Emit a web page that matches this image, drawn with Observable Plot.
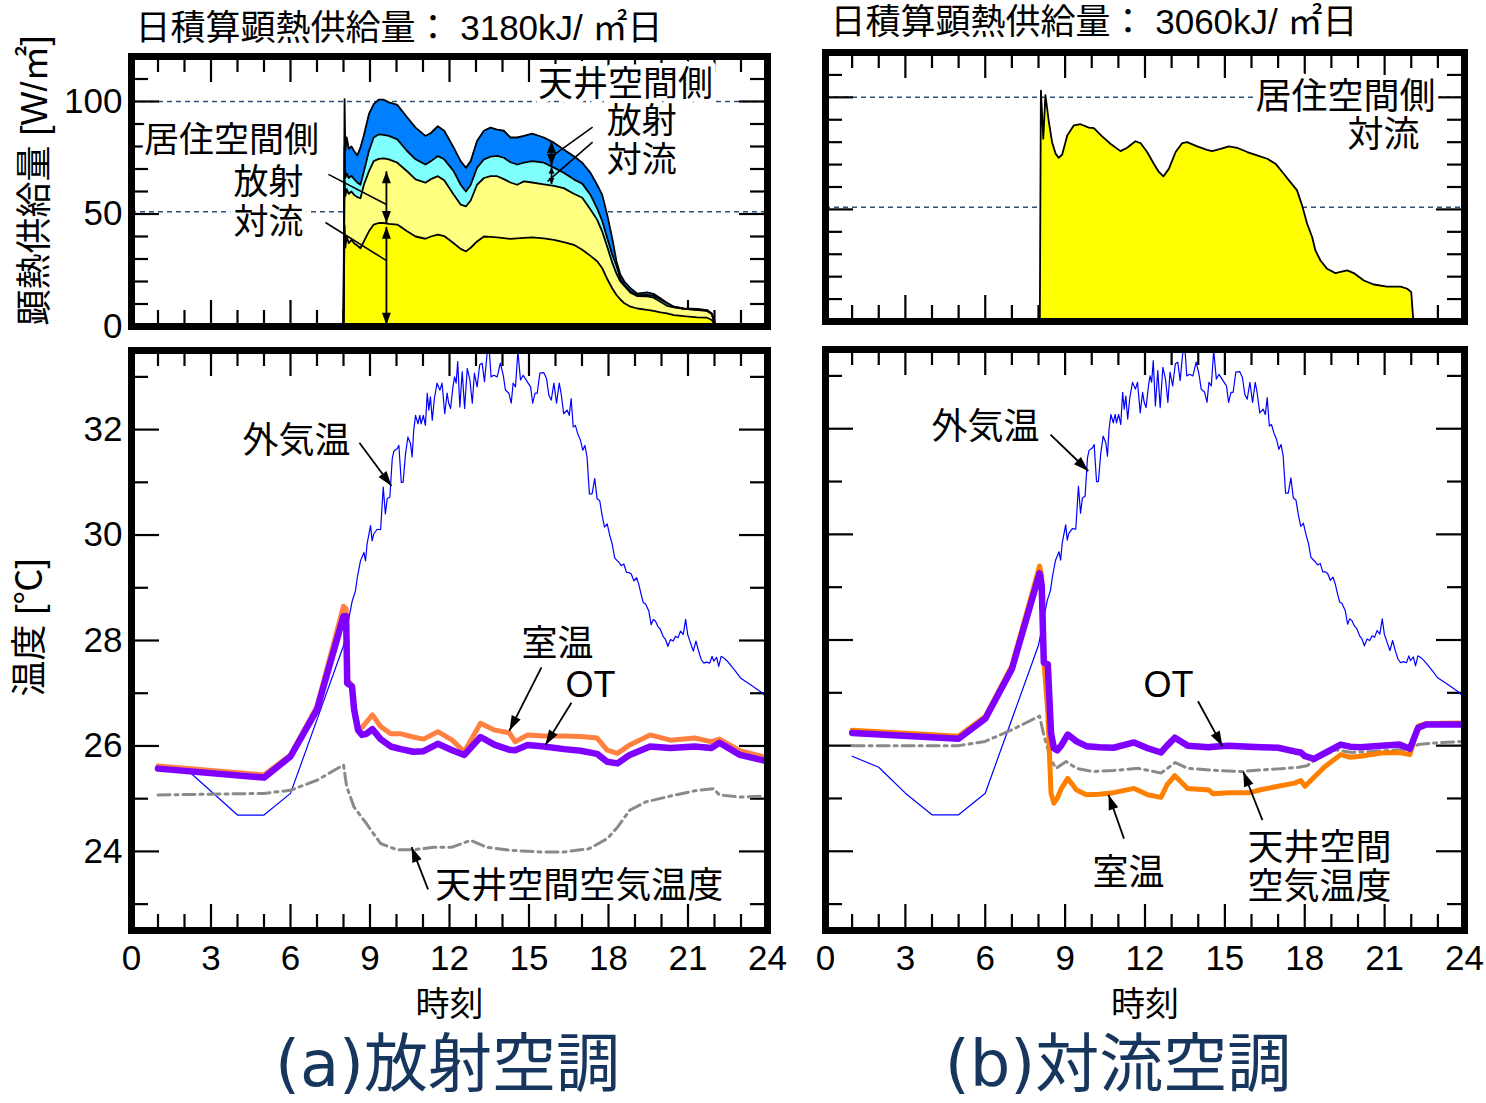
<!DOCTYPE html>
<html><head><meta charset="utf-8">
<script src="https://cdn.jsdelivr.net/npm/d3@7"></script>
<script src="https://cdn.jsdelivr.net/npm/@observablehq/plot@0.6"></script>
<style>
body{margin:0;background:#fff;}
#root{position:relative;width:1486px;height:1103px;overflow:hidden;background:#fff;}
</style></head><body><div id="root"></div>
<script>
// ---------- tick values ----------
const xTickLabels = [0,3,6,9,12,15,18,21,24];
const xMajorTicks = [3,6,9,12,15,18,21];
const xMinorTicks = [1,2,4,5,7,8,10,11,13,14,16,17,19,20,22,23];
const heatTickLabels = [0,50,100];
const heatMajorTicks = [50,100];
const heatMinorTicks = [10,20,30,40,60,70,80,90,110];
const tempTickLabels = [24,26,28,30,32];
const tempMajorTicks = [24,26,28,30,32];
const tempMinorTicks = [23,25,27,29,31,33];
const heatRefLines = [100,51];

// ---------- (a) radiant: heat supply, cumulative boundaries [W/m2] ----------
const aHeatHour = [8.0,8.04,8.07,8.12,8.2,8.3,8.4,8.52,8.64,8.77,8.96,9.14,9.33,9.52,9.71,10.03,10.4,10.72,11.09,11.3,11.56,11.8,12.16,12.42,12.62,12.8,13.04,13.3,13.55,13.8,14.05,14.3,14.55,14.81,15.12,15.56,15.94,16.31,16.69,17.01,17.32,17.57,17.76,17.95,18.14,18.3,18.45,18.6,18.83,19.09,19.46,19.7,19.96,20.21,20.47,20.84,21.35,21.72,21.9,22.0,22.05];
const aLivingConvTop = [0,45,35,40,37,38.5,37,36,34.8,37.8,42.3,45.3,46,46,45.6,45.3,42.3,40,39,40,40.8,40.2,37,34.5,33.4,35,37.8,40,39.8,39.6,39.3,38.9,39.2,39.4,39.6,39.2,38.5,37.5,36.3,34.1,31.4,29,26,21.2,17,14,12,10.3,8.8,8,7.4,6.9,6.3,5.8,5.1,4.6,4.1,3.9,2.9,1.0,0];
const aLivingRadTop = [0,65,58,61,59,60,58.5,57.5,57,63,69,73.5,74.5,74.7,74.3,72.8,69,65.4,63.9,65.5,66.8,65,58.6,54.2,53.4,56,63,66,66.8,66.8,65.5,64,63,64.5,64,63.2,62.5,61.5,59,57.2,52,47.5,42.3,35.5,28.5,23.5,20,18,15,13.5,13.4,12.8,11,9.2,8.5,7.8,7.3,6.9,5.4,1.8,0];
const aCeilConvTop = [0,80,66,68,66,67,65.5,64,63,69,78,84,85.4,85.2,84.7,83.2,78,74.3,72,73.5,75.8,74.3,69,63,60,63,70.6,74.3,75.5,75.8,75,73,72,72.8,73.5,72.8,70.6,68.3,65.4,63.5,58.5,52.5,47,39.3,32,27,21,18.5,15.5,13.9,14.1,13.6,12,10.3,8.7,7.9,7.5,7.1,5.7,1.9,0];
const aCeilRadTop = [0,101,78,84,79,80,78,76,79.5,85,94.4,98.8,100.8,100.8,99.6,98.5,93,88.4,84.7,86,89,87,79.5,73.5,70.5,73.5,82.4,87,88.4,87.5,87,84,84,84.7,85.7,84,81.7,78.7,75.7,72.8,68.3,63,58.6,49.7,39.3,29,23,20,17,14.6,15.2,14.5,12.5,10.5,8.8,8.0,7.8,7.3,5.8,2.0,0];

// ---------- (b) convective: heat supply [W/m2] ----------
const bHeatHour = [8.05,8.09,8.18,8.26,8.39,8.51,8.64,8.76,8.89,9.08,9.33,9.58,9.89,10.08,10.39,10.70,11.08,11.33,11.64,11.83,12.08,12.33,12.52,12.69,12.90,13.15,13.40,13.58,13.96,14.33,14.52,14.84,15.15,15.46,15.84,16.21,16.59,16.90,17.21,17.46,17.71,17.90,18.09,18.28,18.40,18.59,18.84,19.15,19.59,19.84,20.22,20.59,21.09,21.60,21.85,22.0,22.08];
const bLivingConv = [0,103,81.5,101,89,80,74.9,73,74.5,83,87.5,88,86.5,86.3,82.6,79.3,76,77.5,80.4,79.6,75.6,70.4,66.7,64.7,68.2,75.6,79.6,80,78.1,76.6,76,77,78.1,77.5,75.6,74.1,72.6,70.4,65.9,62.2,58.5,51.8,43.6,37.6,31.7,27.2,23.5,21.6,22.8,21.6,18.3,16.5,15.6,15.6,14.6,13.1,0];

// ---------- outdoor air temperature [°C] ----------
const aOutNightHour = [1.0,2.2,4.0,5.0,6.0];
const aOutNight = [25.57,25.5,24.69,24.69,25.10];
const bOutNightHour = [1.0,2.0,3.0,4.0,5.0,6.0];
const bOutNight = [25.80,25.59,25.10,24.69,24.69,25.10];
const outDayHour = [7.0,8.0,8.33,8.45,8.52,8.64,8.77,8.83,8.89,9.02,
 9.08,9.14,9.27,9.40,9.50,9.58,9.65,9.75,9.84,9.90,
 10.03,10.09,10.18,10.25,10.34,10.43,10.53,10.59,10.65,10.72,
 10.81,10.88,10.93,11.01,11.09,11.16,11.22,11.28,11.35,11.43,
 11.53,11.64,11.72,11.82,11.91,11.97,12.04,12.13,12.19,12.25,
 12.31,12.39,12.48,12.57,12.67,12.77,12.86,12.94,13.04,13.14,
 13.23,13.32,13.42,13.50,13.57,13.67,13.80,13.92,14.03,14.11,
 14.24,14.33,14.40,14.49,14.58,14.68,14.78,14.93,15.06,15.14,
 15.23,15.31,15.41,15.56,15.66,15.75,15.84,15.94,16.04,16.14,
 16.21,16.31,16.44,16.52,16.59,16.67,16.75,16.84,16.94,17.03,
 17.11,17.19,17.28,17.38,17.48,17.57,17.67,17.76,17.85,17.95,
 18.05,18.14,18.23,18.33,18.40,18.48,18.58,18.68,18.77,18.86,
 18.96,19.06,19.14,19.23,19.31,19.40,19.52,19.61,19.69,19.77,
 19.86,19.96,20.06,20.15,20.24,20.34,20.44,20.53,20.62,20.72,
 20.82,20.91,20.99,21.09,21.20,21.30,21.40,21.50,21.60,21.70,
 21.82,21.91,21.97,22.08,22.16,22.25,22.35,22.48,22.60,22.79,
 22.98,23.36,23.74,24.0];
const outDay = [26.5,27.9,28.75,28.94,29.19,29.51,29.67,29.51,29.83,30.18,
 29.89,30.02,30.11,30.10,30.91,30.40,30.69,30.72,31.45,31.59,
 31.64,31.70,31.00,31.00,31.54,31.86,31.73,31.48,31.99,32.27,
 32.11,32.27,32.11,32.27,32.08,32.69,32.37,32.62,32.18,32.59,
 32.88,32.75,32.88,32.30,32.69,32.50,32.40,32.81,33.00,32.88,
 33.29,32.43,33.10,32.40,33.16,32.94,32.50,33.07,32.81,33.23,
 33.26,32.91,33.45,33.51,33.00,33.03,33.00,33.26,33.03,32.75,
 32.69,32.50,32.88,32.81,33.48,32.94,33.03,32.91,32.81,32.50,
 32.69,32.69,33.07,33.08,32.97,32.65,32.56,32.88,32.50,32.88,
 32.69,32.30,32.37,32.27,32.59,32.05,32.08,31.92,31.80,31.61,
 31.70,31.48,30.78,30.78,31.07,30.69,30.65,30.37,30.15,30.21,
 29.99,29.83,29.57,29.51,29.48,29.42,29.45,29.29,29.29,29.26,
 29.13,29.19,29.07,28.88,28.72,28.69,28.56,28.30,28.40,28.37,
 28.27,28.21,28.08,28.02,27.89,28.02,27.99,28.08,28.05,28.18,
 28.11,28.40,28.11,27.96,27.80,27.99,27.80,27.64,27.57,27.59,
 27.57,27.70,27.61,27.68,27.51,27.70,27.67,27.61,27.54,27.42,
 27.29,27.16,27.03,26.91];

// ---------- (a) radiant: room temp, OT, ceiling air temp [°C] ----------
const aTempHour = [1.0,5.0,6.0,7.0,8.0,8.1,8.14,8.32,8.4,8.55,8.7,8.86,9.09,9.4,9.78,10.17,10.63,11.02,11.56,12.1,12.56,13.17,13.71,14.25,14.48,14.95,15.56,16.33,16.95,17.57,17.95,18.34,18.8,19.57,20.34,21.26,21.88,22.19,22.96,23.8,23.96];
const aOT = [25.57,25.40,25.80,26.69,28.46,28.46,27.19,27.13,26.69,26.30,26.21,26.23,26.32,26.13,25.99,25.94,25.89,25.90,26.04,25.92,25.83,26.17,26.02,25.93,25.92,26.02,25.99,25.94,25.91,25.85,25.70,25.67,25.83,25.99,25.96,25.99,25.96,26.06,25.83,25.73,25.71];
const aRoom = [25.62,25.45,25.83,26.75,28.65,28.6,27.26,27.15,26.72,26.32,26.35,26.45,26.59,26.37,26.23,26.23,26.17,26.13,26.27,26.11,25.89,26.43,26.30,26.25,26.08,26.21,26.19,26.19,26.18,26.15,25.92,25.86,26.02,26.21,26.11,26.15,26.08,26.13,25.91,25.80,25.78];
const aCeilHour = [1.0,5.0,6.0,7.0,8.0,8.12,8.4,8.86,9.4,10.02,10.63,11.4,12.1,12.79,13.4,14.33,15.41,16.33,17.26,17.95,18.34,18.8,19.41,20.34,21.26,21.96,22.19,22.96,24.0];
const aCeil = [25.07,25.10,25.16,25.35,25.64,25.23,24.84,24.53,24.15,24.03,24.03,24.08,24.08,24.21,24.08,24.02,23.99,23.99,24.05,24.24,24.46,24.78,24.94,25.05,25.15,25.19,25.07,25.03,25.05];

// ---------- (b) convective: room temp, OT, ceiling air temp [°C] ----------
const bTempHour = [1.0,5.0,6.0,7.0,8.04,8.12,8.2,8.35,8.47,8.58,8.7,8.85,9.1,9.43,9.8,10.3,10.82,11.59,12.1,12.6,12.83,13.12,13.6,14.4,14.55,15.15,15.92,16.38,17.0,17.62,17.85,18.01,18.35,18.75,19.35,19.71,20.09,20.87,21.56,21.95,22.26,22.57,24.0];
const bOT = [26.24,26.13,26.51,27.45,29.26,29.03,27.57,27.54,26.24,25.95,25.91,26.0,26.21,26.08,25.99,25.97,25.96,26.06,25.95,25.87,26.0,26.15,26.0,25.97,25.98,26.0,25.98,25.97,25.96,25.89,25.87,25.80,25.75,25.86,26.02,25.98,25.97,26.0,26.02,25.94,26.34,26.40,26.40];
const bRoom = [26.29,26.18,26.55,27.51,29.40,29.2,27.64,26.62,25.10,24.91,25.0,25.18,25.38,25.16,25.07,25.08,25.11,25.19,25.07,25.02,25.26,25.43,25.19,25.16,25.09,25.11,25.11,25.17,25.23,25.29,25.34,25.23,25.40,25.6,25.83,25.78,25.80,25.86,25.87,25.83,26.37,26.42,26.43];
const bCeilHour = [1.0,5.0,6.0,7.0,8.04,8.2,8.47,8.66,9.04,9.43,10.05,10.82,11.75,12.6,13.14,13.6,14.68,15.61,16.38,17.0,17.77,18.08,18.55,19.17,19.78,20.56,21.48,21.95,22.26,22.87,24.0];
const bCeil = [26.0,26.0,26.08,26.3,26.56,26.2,25.73,25.57,25.70,25.57,25.51,25.53,25.57,25.48,25.68,25.57,25.53,25.51,25.54,25.56,25.59,25.62,25.78,25.92,25.87,25.89,25.92,25.94,26.02,26.05,26.08];

// ---------- annotations (data coordinates) ----------
const aHeatLabels = [
  {x:3.77, y:82.7, t:"居住空間側"}, {x:5.17, y:64, t:"放射"}, {x:5.17, y:46.2, t:"対流"},
  {x:18.64, y:107.3, t:"天井空間側"}, {x:19.25, y:91.2, t:"放射"}, {x:19.25, y:73.6, t:"対流"}];
const aHeatPointers = [
  {x1:7.43, y1:67.6, x2:9.62, y2:54.2}, {x1:7.32, y1:46.2, x2:9.62, y2:29.3},
  {x1:17.4, y1:88.6, x2:15.85, y2:75.5}, {x1:17.4, y1:81.9, x2:15.7, y2:64.5}];
const aHeatSpans = [
  {x:9.62, y1:0.8, y2:44.3, big:true}, {x:9.62, y1:46, y2:69, big:true},
  {x:15.85, y1:71.5, y2:82.5, big:true}, {x:15.85, y1:63.3, y2:70.7, big:false}];
const bHeatLabels = [{x:19.53, y:100, t:"居住空間側"}, {x:20.96, y:83, t:"対流"}];
const aTempLabels = [
  {x:6.23, y:31.77, t:"外気温"}, {x:16.08, y:27.92, t:"室温"}, {x:17.32, y:27.14, t:"OT"},
  {x:16.9, y:23.33, t:"天井空間空気温度"}];
const aTempArrows = [
  {x1:8.6, y1:31.75, x2:9.81, y2:30.93}, {x1:15.47, y1:27.49, x2:14.26, y2:26.29},
  {x1:16.6, y1:26.82, x2:15.62, y2:26.02}, {x1:11.19, y1:23.28, x2:10.57, y2:24.08}];
const bTempLabels = [
  {x:6.01, y:32.02, t:"外気温"}, {x:12.88, y:27.14, t:"OT"}, {x:11.38, y:23.58, t:"室温"},
  {x:18.55, y:24.05, t:"天井空間"}, {x:18.55, y:23.32, t:"空気温度"}];
const bTempArrows = [
  {x1:8.45, y1:31.89, x2:9.87, y2:31.2}, {x1:13.99, y1:26.84, x2:14.91, y2:25.99},
  {x1:11.21, y1:24.24, x2:10.63, y2:25.07}, {x1:16.41, y1:24.59, x2:15.69, y2:25.51}];

const titleA = "日積算顕熱供給量： 3180kJ/ ㎡日";
const titleB = "日積算顕熱供給量： 3060kJ/ ㎡日";
const heatAxisLabel = "顕熱供給量 [W/㎡]";
const tempAxisLabel = "温度 [℃]";
const xAxisLabel = "時刻";
const captionA = "(a)放射空調";
const captionB = "(b)対流空調";

// ---------- helpers ----------
const FONT = "'Liberation Sans','Noto Sans CJK JP',sans-serif";
const CAPFONT = "'DejaVu Sans','Noto Sans CJK JP',sans-serif";
const root = document.getElementById("root");
const zip = (hs, vs) => hs.map((h, i) => ({h, v: vs[i]}));

function tickMarks(w, h, yMajor, yMinor) {
  const sw = 2.2;
  return [
    Plot.ruleX(xMinorTicks, {x: d => d, insetBottom: h - 16, strokeWidth: sw}),
    Plot.ruleX(xMajorTicks, {x: d => d, insetBottom: h - 26, strokeWidth: sw}),
    Plot.ruleX(xMinorTicks, {x: d => d, insetTop: h - 16, strokeWidth: sw}),
    Plot.ruleX(xMajorTicks, {x: d => d, insetTop: h - 26, strokeWidth: sw}),
    Plot.ruleY(yMinor, {y: d => d, insetRight: w - 17, strokeWidth: sw}),
    Plot.ruleY(yMajor, {y: d => d, insetRight: w - 28, strokeWidth: sw}),
    Plot.ruleY(yMinor, {y: d => d, insetLeft: w - 17, strokeWidth: sw}),
    Plot.ruleY(yMajor, {y: d => d, insetLeft: w - 28, strokeWidth: sw})
  ];
}

function arrowHeads(arrows, xs, ys, len, r) {
  const heads = arrows.map(a => ({x: a.x2, y: a.y2,
    angle: Math.atan2(xs(a.x2) - xs(a.x1), -(ys(a.y2) - ys(a.y1))) * 180 / Math.PI}));
  return Plot.vector(heads, {x: "x", y: "y", rotate: "angle", length: len, r, shape: "spike",
    anchor: "end", fill: "black", stroke: "none"});
}

function panel(cfg) {
  const {left, top, width, height, m, yDomain, marks} = cfg;
  const svg = Plot.plot({
    width, height, marginTop: m[0], marginRight: m[1], marginBottom: m[2], marginLeft: m[3],
    x: {domain: [0, 24], axis: null, label: null},
    y: {domain: yDomain, axis: null, label: null},
    style: {fontFamily: FONT, background: "transparent", overflow: "visible", color: "black"},
    marks
  });
  svg.style.position = "absolute";
  svg.style.left = left + "px";
  svg.style.top = top + "px";
  svg.style.maxWidth = "none";
  root.appendChild(svg);
}

// ================= Left top: (a) heat supply =================
{
  const W = 780, H = 345, m = [56, 13, 19, 131];
  const pw = W - m[1] - m[3], ph = H - m[0] - m[2];
  const yDom = [0, 120];
  const xs = d3.scaleLinear([0, 24], [m[3], W - m[1]]);
  const ys = d3.scaleLinear(yDom, [H - m[2], m[0]]);
  const rows = aHeatHour.map((h, i) => ({h, c1: aLivingConvTop[i], c2: aLivingRadTop[i], c3: aCeilConvTop[i], c4: aCeilRadTop[i]}));
  const spanLines = aHeatSpans.map(s => ({x1: s.x, x2: s.x, y1: s.y1, y2: s.y2}));
  const headsBig = aHeatSpans.filter(s => s.big).flatMap(s => [{x1: s.x, y1: s.y1, x2: s.x, y2: s.y2}, {x1: s.x, y1: s.y2, x2: s.x, y2: s.y1}]);
  const headsSmall = aHeatSpans.filter(s => !s.big).flatMap(s => [{x1: s.x, y1: s.y1, x2: s.x, y2: s.y2}, {x1: s.x, y1: s.y2, x2: s.x, y2: s.y1}]);
  panel({left: 0, top: 0, width: W, height: H, m, yDomain: yDom, marks: [
    Plot.ruleY(heatRefLines, {y: d => d, stroke: "#2c5078", strokeWidth: 1.5, strokeDasharray: "5,4"}),
    ...tickMarks(pw, ph, heatMajorTicks, heatMinorTicks),
    Plot.areaY(rows, {x: "h", y1: 0, y2: "c1", fill: "#ffff00"}),
    Plot.areaY(rows, {x: "h", y1: "c1", y2: "c2", fill: "#ffff80"}),
    Plot.areaY(rows, {x: "h", y1: "c2", y2: "c3", fill: "#80ffff"}),
    Plot.areaY(rows, {x: "h", y1: "c3", y2: "c4", fill: "#0080ff"}),
    Plot.lineY(rows, {x: "h", y: "c1", stroke: "black", strokeWidth: 1.8}),
    Plot.lineY(rows, {x: "h", y: "c2", stroke: "black", strokeWidth: 1.8}),
    Plot.lineY(rows, {x: "h", y: "c3", stroke: "black", strokeWidth: 1.8}),
    Plot.lineY(rows, {x: "h", y: "c4", stroke: "black", strokeWidth: 1.8}),
    Plot.text(aHeatLabels, {x: "x", y: "y", text: "t", fontSize: 35, fill: "black", stroke: "white", strokeWidth: 10, paintOrder: "stroke"}),
    Plot.link(aHeatPointers, {x1: "x1", y1: "y1", x2: "x2", y2: "y2", stroke: "black", strokeWidth: 1.6}),
    Plot.link(spanLines, {x1: "x1", y1: "y1", x2: "x2", y2: "y2", stroke: "black", strokeWidth: 1.8}),
    arrowHeads(headsBig, xs, ys, 12, 4.5),
    arrowHeads(headsSmall, xs, ys, 6, 3),
    Plot.text(heatTickLabels, {y: d => d, text: d => String(d), frameAnchor: "left", dx: -9, textAnchor: "end", lineAnchor: "middle", fontSize: 35}),
    Plot.text([titleA], {frameAnchor: "top-left", dx: 4, dy: -28, textAnchor: "start", lineAnchor: "middle", fontSize: 35}),
    Plot.text([heatAxisLabel], {frameAnchor: "left", dx: -96, dy: -11, rotate: -90, textAnchor: "middle", lineAnchor: "middle", fontSize: 36}),
    Plot.frame({stroke: "black", strokeWidth: 7})
  ]});
}

// ================= Right top: (b) heat supply =================
{
  const W = 696, H = 345, m = [52, 22, 24, 35];
  const pw = W - m[1] - m[3], ph = H - m[0] - m[2];
  const rows = zip(bHeatHour, bLivingConv);
  panel({left: 790, top: 0, width: W, height: H, m, yDomain: [0, 120], marks: [
    Plot.ruleY(heatRefLines, {y: d => d, stroke: "#2c5078", strokeWidth: 1.5, strokeDasharray: "5,4"}),
    ...tickMarks(pw, ph, heatMajorTicks, heatMinorTicks),
    Plot.areaY(rows, {x: "h", y: "v", fill: "#ffff00"}),
    Plot.lineY(rows, {x: "h", y: "v", stroke: "black", strokeWidth: 1.8}),
    Plot.text(bHeatLabels, {x: "x", y: "y", text: "t", fontSize: 36, fill: "black", stroke: "white", strokeWidth: 10, paintOrder: "stroke"}),
    Plot.text([titleB], {frameAnchor: "top-left", dx: 5, dy: -30, textAnchor: "start", lineAnchor: "middle", fontSize: 35}),
    Plot.frame({stroke: "black", strokeWidth: 7})
  ]});
}

function tempPanel(o) {
  const {left, W, m, nightH, nightT, tH, ot, room, roomColor, cH, ceil, labels, arrows, showY, caption, capDx} = o;
  const H = 758;
  const pw = W - m[1] - m[3], ph = H - m[0] - m[2];
  const yDom = [22.5, 33.5];
  const xs = d3.scaleLinear([0, 24], [m[3], W - m[1]]);
  const ys = d3.scaleLinear(yDom, [H - m[2], m[0]]);
  const outRows = zip(nightH.concat(outDayHour), nightT.concat(outDay));
  const marks = [
    ...tickMarks(pw, ph, tempMajorTicks, tempMinorTicks),
    Plot.lineY(outRows, {x: "h", y: "v", stroke: "#0000ff", strokeWidth: 1.2, clip: true}),
    Plot.lineY(zip(cH, ceil), {x: "h", y: "v", stroke: "#8a8a8a", strokeWidth: 3, strokeDasharray: "12,5,3,5"}),
    Plot.lineY(zip(tH, room), {x: "h", y: "v", stroke: roomColor, strokeWidth: 5, strokeLinejoin: "round"}),
    Plot.lineY(zip(tH, ot), {x: "h", y: "v", stroke: "#8000ff", strokeWidth: 6.5, strokeLinejoin: "round"}),
    Plot.text(labels, {x: "x", y: "y", text: "t", fontSize: 36, fill: "black"}),
    Plot.link(arrows, {x1: "x1", y1: "y1", x2: "x2", y2: "y2", stroke: "black", strokeWidth: 1.8}),
    arrowHeads(arrows, xs, ys, 15, 5),
    Plot.text(xTickLabels, {x: d => d, text: d => String(d), frameAnchor: "bottom", dy: 28, lineAnchor: "middle", fontSize: 35}),
    Plot.text([xAxisLabel], {frameAnchor: "bottom", dy: 75, lineAnchor: "middle", fontSize: 34}),
    Plot.text([caption], {frameAnchor: "bottom", dx: capDx, dy: 135, lineAnchor: "middle", fontSize: 64, fill: "#17365d", fontFamily: CAPFONT}),
    Plot.frame({stroke: "black", strokeWidth: 7})
  ];
  if (showY) {
    marks.push(Plot.text(tempTickLabels, {y: d => d, text: d => String(d), frameAnchor: "left", dx: -9, textAnchor: "end", lineAnchor: "middle", fontSize: 35}));
    marks.push(Plot.text([tempAxisLabel], {frameAnchor: "left", dx: -101, dy: -13, rotate: -90, textAnchor: "middle", lineAnchor: "middle", fontSize: 36}));
  }
  panel({left, top: 345, width: W, height: H, m, yDomain: yDom, marks});
}

tempPanel({left: 0, W: 780, m: [5, 13, 173, 131], nightH: aOutNightHour, nightT: aOutNight,
  tH: aTempHour, ot: aOT, room: aRoom, roomColor: "#ff8040", cH: aCeilHour, ceil: aCeil,
  labels: aTempLabels, arrows: aTempArrows, showY: true, caption: captionA, capDx: -2});
tempPanel({left: 790, W: 696, m: [4, 22, 173, 35], nightH: bOutNightHour, nightT: bOutNight,
  tH: bTempHour, ot: bOT, room: bRoom, roomColor: "#ff8000", cH: bCeilHour, ceil: bCeil,
  labels: bTempLabels, arrows: bTempArrows, showY: false, caption: captionB, capDx: -27});
</script>
</body></html>
